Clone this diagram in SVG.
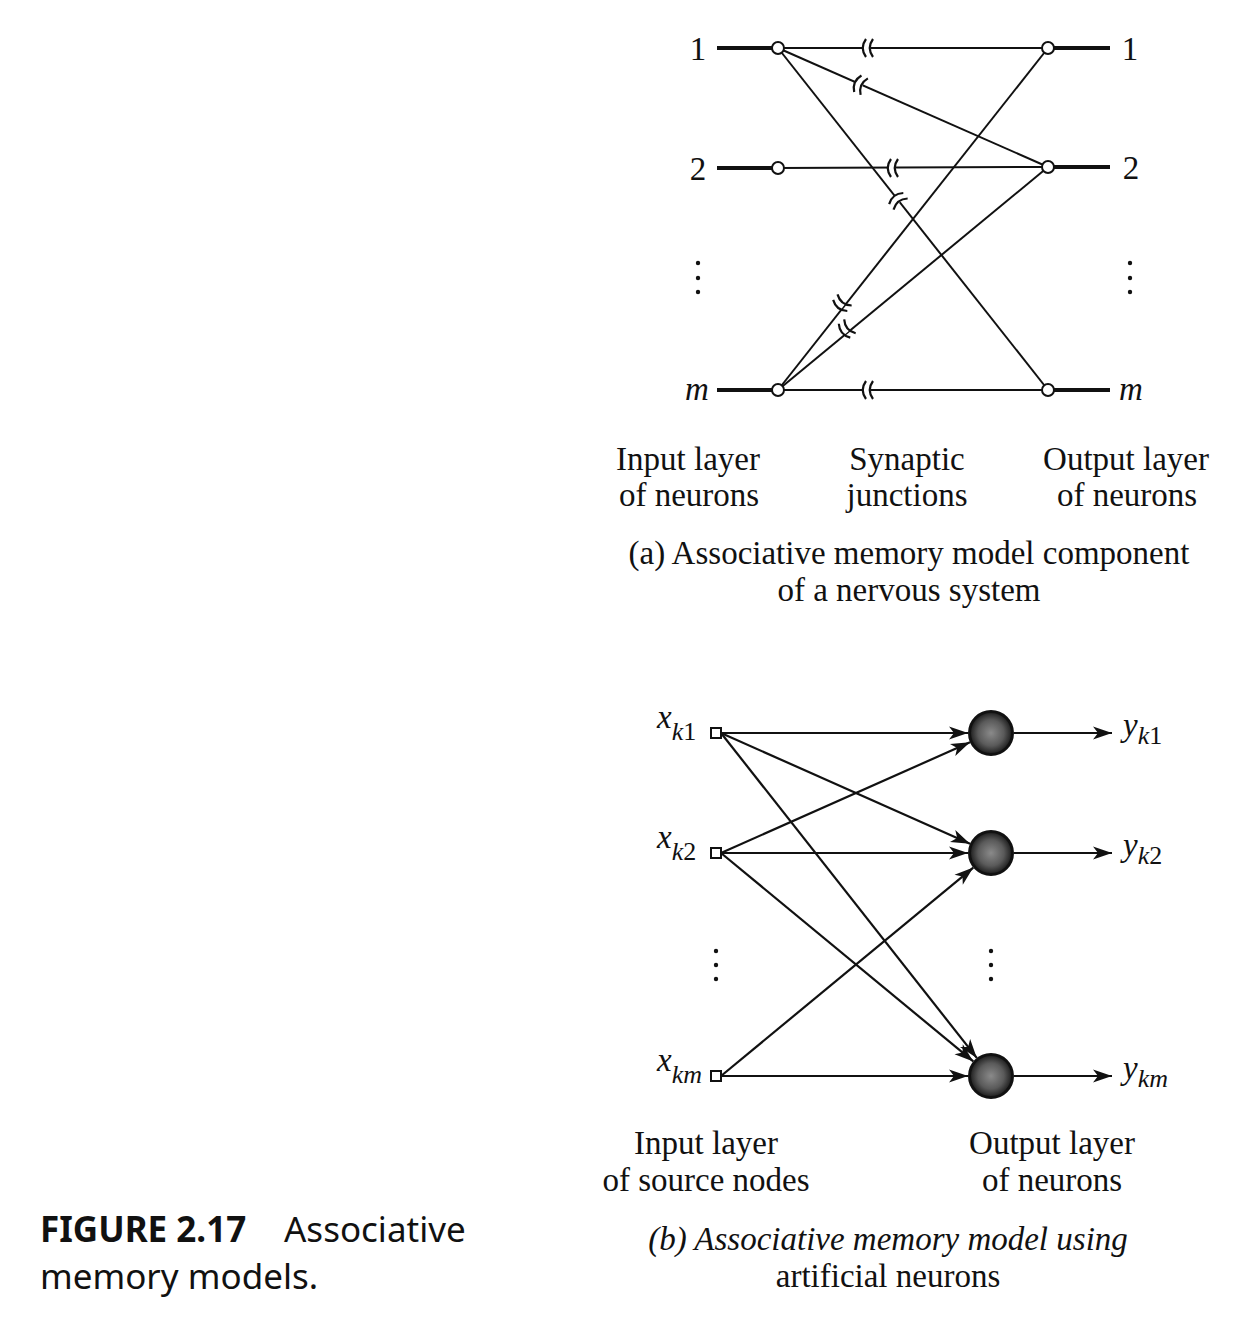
<svg xmlns="http://www.w3.org/2000/svg" xmlns:xlink="http://www.w3.org/1999/xlink" width="1258" height="1322" viewBox="0 0 1258 1322">
<style>
.t{font-family:"Liberation Serif","Times New Roman",serif;font-size:33px;fill:#111}
.c{text-anchor:middle}
.i{font-style:italic}
.ln{stroke:#111;stroke-width:2;fill:none}
.thick{stroke:#111;stroke-width:4;fill:none}
.node{fill:#fff;stroke:#111;stroke-width:2}
.neuron{fill:url(#ng);stroke:#111;stroke-width:3}
.arr{stroke:#111;stroke-width:2.2;fill:none;marker-end:url(#ah)}
.dot{fill:#111}
.fig{font-family:"Noto Sans","Open Sans",sans-serif;font-size:35px;fill:#111}
.sub{font-size:26px}
</style>
<defs>
<radialGradient id="ng" cx="0.5" cy="0.5" r="0.5">
<stop offset="0" stop-color="#8a8a8a"/>
<stop offset="0.6" stop-color="#5a5a5a"/>
<stop offset="1" stop-color="#1a1a1a"/>
</radialGradient>
<marker id="ah" markerUnits="userSpaceOnUse" markerWidth="24" markerHeight="16" viewBox="-20 -8 22 16" refX="0" refY="0" orient="auto">
<path d="M0,0 L-19,-6.5 L-14,0 L-19,6.5 Z" fill="#111"/>
</marker>
<g id="syn">
<rect x="-1" y="-3" width="8" height="6" fill="#fff"/>
<path d="M2,-9 Q-4.5,0 2,9 M9,-9 Q2.5,0 9,9" stroke="#111" stroke-width="2.2" fill="none"/>
</g>
</defs>
<rect width="1258" height="1322" fill="#fff"/>

<!-- (a) connectors -->
<g id="connectors-a">
<line class="thick" x1="717" y1="48" x2="772" y2="48"/>
<line class="thick" x1="717" y1="168" x2="772" y2="168"/>
<line class="thick" x1="717" y1="390" x2="772" y2="390"/>
<line class="thick" x1="1054" y1="48" x2="1110" y2="48"/>
<line class="thick" x1="1054" y1="167" x2="1110" y2="167"/>
<line class="thick" x1="1054" y1="390" x2="1110" y2="390"/>
<line class="ln" x1="778" y1="48" x2="1048" y2="48"/>
<line class="ln" x1="778" y1="48" x2="1048" y2="167"/>
<line class="ln" x1="778" y1="48" x2="1048" y2="390"/>
<line class="ln" x1="778" y1="168" x2="1048" y2="167"/>
<line class="ln" x1="778" y1="390" x2="1048" y2="48"/>
<line class="ln" x1="778" y1="390" x2="1048" y2="167"/>
<line class="ln" x1="778" y1="390" x2="1048" y2="390"/>
<use xlink:href="#syn" transform="translate(864,48)"/>
<use xlink:href="#syn" transform="translate(856,83) rotate(23.8)"/>
<use xlink:href="#syn" transform="translate(895,197) rotate(51.7)"/>
<use xlink:href="#syn" transform="translate(889,168)"/>
<use xlink:href="#syn" transform="translate(839,307) rotate(-51.7)"/>
<use xlink:href="#syn" transform="translate(843,332) rotate(-39.6)"/>
<use xlink:href="#syn" transform="translate(864,390)"/>
</g>

<g id="in-a-1"><circle class="node" cx="778" cy="48" r="6"/><text class="t c" x="698" y="60">1</text></g>
<g id="in-a-2"><circle class="node" cx="778" cy="168" r="6"/><text class="t c" x="698" y="180">2</text></g>
<g id="in-a-m"><circle class="node" cx="778" cy="390" r="6"/><text class="t c i" x="697" y="400">m</text></g>
<g id="out-a-1"><circle class="node" cx="1048" cy="48" r="6"/><text class="t c" x="1130" y="60">1</text></g>
<g id="out-a-2"><circle class="node" cx="1048" cy="167" r="6"/><text class="t c" x="1131" y="179">2</text></g>
<g id="out-a-m"><circle class="node" cx="1048" cy="390" r="6"/><text class="t c i" x="1131" y="400">m</text></g>
<g id="dots-a">
<circle class="dot" cx="698" cy="263" r="2.2"/><circle class="dot" cx="698" cy="278" r="2.2"/><circle class="dot" cx="698" cy="292" r="2.2"/>
<circle class="dot" cx="1130" cy="263" r="2.2"/><circle class="dot" cx="1130" cy="278" r="2.2"/><circle class="dot" cx="1130" cy="292" r="2.2"/>
</g>
<g id="labels-a">
<text class="t c" x="688" y="470">Input layer</text>
<text class="t c" x="689" y="506">of neurons</text>
<text class="t c" x="907" y="470">Synaptic</text>
<text class="t c" x="907" y="506">junctions</text>
<text class="t c" x="1126" y="470">Output layer</text>
<text class="t c" x="1127" y="506">of neurons</text>
<text class="t c" x="909" y="564">(a) Associative memory model component</text>
<text class="t c" x="909" y="601">of a nervous system</text>
</g>

<!-- (b) connectors -->
<g id="connectors-b">
<line class="arr" x1="721" y1="733" x2="968" y2="733"/>
<line class="arr" x1="721" y1="733" x2="970" y2="843.7"/>
<line class="arr" x1="721" y1="733" x2="976.8" y2="1057.9"/>
<line class="arr" x1="721" y1="853" x2="970" y2="742.3"/>
<line class="arr" x1="721" y1="853" x2="968" y2="853"/>
<line class="arr" x1="721" y1="853" x2="973.3" y2="1061.4"/>
<line class="arr" x1="721" y1="1076" x2="973.3" y2="867.6"/>
<line class="arr" x1="721" y1="1076" x2="968" y2="1076"/>
<line class="arr" x1="1014" y1="733" x2="1112" y2="733"/>
<line class="arr" x1="1014" y1="853" x2="1112" y2="853"/>
<line class="arr" x1="1014" y1="1076" x2="1112" y2="1076"/>
</g>

<g id="in-b-1"><rect class="node" x="711" y="728" width="10" height="10"/><text class="t i" x="657" y="728">x<tspan class="sub" dy="12">k</tspan><tspan class="sub" font-style="normal">1</tspan></text></g>
<g id="in-b-2"><rect class="node" x="711" y="848" width="10" height="10"/><text class="t i" x="657" y="848">x<tspan class="sub" dy="12">k</tspan><tspan class="sub" font-style="normal">2</tspan></text></g>
<g id="in-b-m"><rect class="node" x="711" y="1071" width="10" height="10"/><text class="t i" x="657" y="1071">x<tspan class="sub" dy="12">km</tspan></text></g>
<g id="out-b-1"><circle class="neuron" cx="991" cy="733" r="21.5"/><text class="t i" x="1123" y="736">y<tspan class="sub" dy="8">k</tspan><tspan class="sub" font-style="normal">1</tspan></text></g>
<g id="out-b-2"><circle class="neuron" cx="991" cy="853" r="21.5"/><text class="t i" x="1123" y="856">y<tspan class="sub" dy="8">k</tspan><tspan class="sub" font-style="normal">2</tspan></text></g>
<g id="out-b-m"><circle class="neuron" cx="991" cy="1076" r="21.5"/><text class="t i" x="1123" y="1079">y<tspan class="sub" dy="8">km</tspan></text></g>
<g id="dots-b">
<circle class="dot" cx="716" cy="951" r="2.2"/><circle class="dot" cx="716" cy="965" r="2.2"/><circle class="dot" cx="716" cy="979" r="2.2"/>
<circle class="dot" cx="991" cy="951" r="2.2"/><circle class="dot" cx="991" cy="965" r="2.2"/><circle class="dot" cx="991" cy="979" r="2.2"/>
</g>
<g id="labels-b">
<text class="t c" x="706" y="1154">Input layer</text>
<text class="t c" x="706" y="1191">of source nodes</text>
<text class="t c" x="1052" y="1154">Output layer</text>
<text class="t c" x="1052" y="1191">of neurons</text>
<text class="t c i" x="888" y="1250">(b) Associative memory model using</text>
<text class="t c" x="888" y="1287">artificial neurons</text>
</g>

<g id="figure-caption">
<text class="fig" x="40" y="1242"><tspan font-weight="bold">FIGURE 2.17</tspan><tspan x="284">Associative</tspan></text>
<text class="fig" x="40" y="1289">memory models.</text>
</g>
</svg>
